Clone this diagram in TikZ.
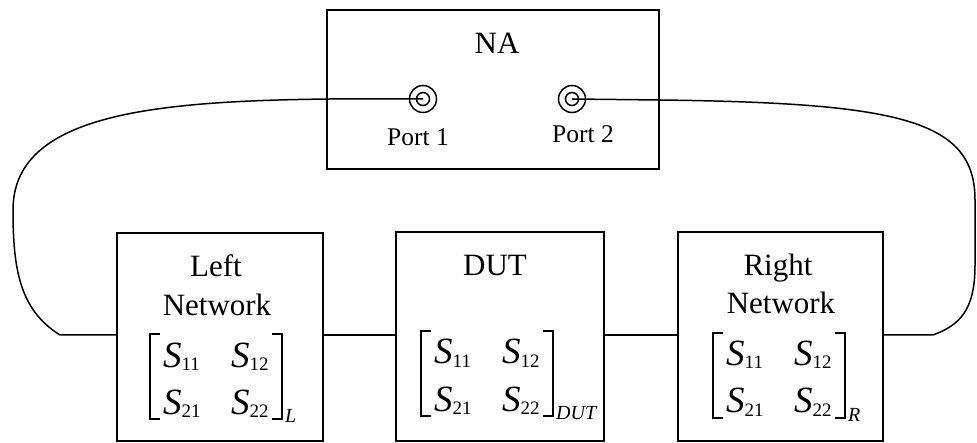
\documentclass[tikz,border=0pt]{standalone}
\usepackage{fontspec}
\setmainfont{Liberation Serif}
\newcommand\mainsz{\fontsize{31}{37}\selectfont}
\newcommand\portsz{\fontsize{25.5}{30}\selectfont}
\newcommand\Ssz{\fontsize{37}{44}\selectfont\itshape}
\newcommand\subsz{\fontsize{19}{22}\selectfont\upshape}
\newcommand\lblsz{\fontsize{20}{24}\selectfont\itshape}
\newcommand\Sx[1]{{\Ssz S}\raisebox{-3pt}{\subsz #1}}
\tikzset{
  box/.style={draw, line width=1.8pt, inner sep=0pt, rectangle},
  wire/.style={line width=1.5pt, line join=round},
  link/.style={line width=1.8pt},
  brk/.style={line width=1.2pt},
  txt/.style={font=\mainsz, inner sep=0pt, anchor=base},
  ptxt/.style={font=\portsz, inner sep=0pt, anchor=base},
  sent/.style={inner sep=0pt, anchor=base west},
  subl/.style={font=\lblsz, inner sep=0pt, anchor=base west},
  jack/.style={draw, circle, line width=1.5pt, inner sep=0pt},
  smat/.pic={
    \node[sent] (-a) at (-53,33) {\Sx{11}};
    \node[sent] (-b) at (15,33) {\Sx{12}};
    \node[sent] (-c) at (-53,80) {\Sx{21}};
    \node[sent] (-d) at (15,80) {\Sx{22}};
    \draw[brk] (-56,0) -- (-66,0) -- (-66,85) -- (-56,85);
    \draw[brk] (56,0) -- (66,0) -- (66,85) -- (56,85);
    \node[subl] (-n) at (69,88) {#1};
  }
}
\begin{document}
\begin{tikzpicture}[x=1pt,y=-1pt]
\useasboundingbox (0,0) rectangle (977,443);

% boxes
\node[box, minimum width=332pt, minimum height=159pt] (na) at (493,89.5) {};
\node[box, minimum width=206pt, minimum height=208pt] (lnet) at (220,337) {};
\node[box, minimum width=208pt, minimum height=209pt] (dut) at (500,336.5) {};
\node[box, minimum width=205pt, minimum height=209pt] (rnet) at (780.5,336.5) {};

% NA contents
\node[txt] (natxt) at (497,54) {NA};
\node[jack, minimum size=27pt] (p1) at (423,99) {};
\node[jack, minimum size=13pt] (p1i) at (423,99) {};
\node[jack, minimum size=27pt] (p2) at (572,99) {};
\node[jack, minimum size=13pt] (p2i) at (572,99) {};
\node[ptxt] (p1txt) at (418,146) {Port 1};
\node[ptxt] (p2txt) at (583,143) {Port 2};

% box labels
\node[txt] (ltxt1) at (216,277) {Left};
\node[txt] (ltxt2) at (217,316) {Network};
\node[txt] (dtxt) at (495,276) {DUT};
\node[txt] (rtxt1) at (778,276) {Right};
\node[txt] (rtxt2) at (781,314) {Network};

% matrices
\pic (lm) at (216,334) {smat={L}};
\pic (dm) at (487,331) {smat={DUT}};
\pic (rm) at (779,333) {smat={R}};

% connections
\coordinate (lw) at (60,335);
\coordinate (rw) at (933,335);
\draw[wire] (p1i.center) -- (330,99) .. controls (150,101) and (13,115) .. (13,210)
  .. controls (13,270) and (20,310) .. (lw) -- (lw -| lnet.west);
\draw[wire] (p2i.center) -- (660,100) .. controls (900,103) and (975,120) .. (975,200)
  -- (975,265) .. controls (975,310) and (960,325) .. (rw) -- (rw -| rnet.east);
\draw[link] (lw -| lnet.east) -- (lw -| dut.west);
\draw[link] (lw -| dut.east) -- (lw -| rnet.west);
\end{tikzpicture}
\end{document}
